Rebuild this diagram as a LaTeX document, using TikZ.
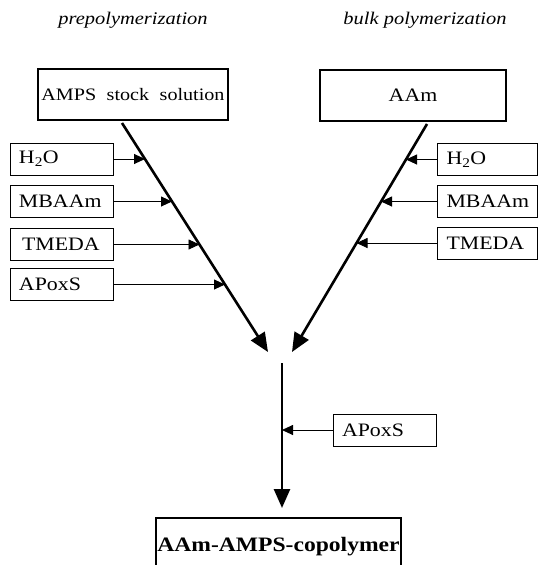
\documentclass[tikz,border=0pt]{standalone}
\usepackage{fontspec}
\setmainfont{Liberation Serif}[FakeStretch=1.15]
\usetikzlibrary{arrows.meta}
\tikzset{
  bigbox/.style={draw, line width=1.5pt, inner sep=0pt, font=\fontsize{17.5}{20}\selectfont},
  smallbox/.style={draw, line width=0.9pt, minimum height=32pt, inner ysep=0pt, inner xsep=9pt, text width=85pt, align=left, font=\fontsize{19}{21}\selectfont},
  title/.style={font=\fontsize{17.8}{20}\selectfont\itshape, inner sep=0pt},
  mainflow/.style={line width=2.6pt, -{Triangle[length=19pt,width=16pt]}},
  feed/.style={line width=0.9pt, -{Triangle[length=11pt,width=10pt]}}
}
\begin{document}
\begin{tikzpicture}[x=1pt,y=-1pt]
\useasboundingbox (0,0) rectangle (538,565);
\clip (0,0) rectangle (538,565);

% titles
\node[title] (t1) at (133,20) {prepolymerization};
\node[title] (t2) at (425,20) {bulk polymerization};

% top boxes
\node[bigbox, minimum width=190pt, minimum height=51pt] (amps) at (133,94.5) {AMPS\hspace{0.6em}stock\hspace{0.6em}solution};
\node[bigbox, minimum width=186pt, minimum height=51pt, font=\fontsize{19}{21}\selectfont] (aam) at (413,95.5) {AAm};

% main lines
\coordinate (ls) at (122,123);
\coordinate (le) at (268,352);
\coordinate (rs) at (427,124);
\coordinate (re) at (292,352);
\draw[mainflow] (ls) -- (le);
\draw[mainflow] (rs) -- (re);

% left feeds
\node[smallbox] (lh) at (61.5,159) {H\textsubscript{2}O};
\node[smallbox] (lm) at (61.5,201.5) {MBAAm};
\node[smallbox] (lt) at (61.5,244.5) {\hspace{3pt}TMEDA};
\node[smallbox] (la) at (61.5,284.5) {APoxS};
\coordinate (lh1) at (145,159);
\coordinate (lm1) at (172,201.5);
\coordinate (lt1) at (199.5,244.5);
\coordinate (la1) at (225,284.5);
\draw[feed] (lh.east) -- (lh1);
\draw[feed] (lm.east) -- (lm1);
\draw[feed] (lt.east) -- (lt1);
\draw[feed] (la.east) -- (la1);

% right feeds
\node[smallbox, text width=82pt] (rh) at (487.5,159.5) {H\textsubscript{2}O};
\node[smallbox, text width=82pt] (rm) at (487.5,201.5) {MBAAm};
\node[smallbox, text width=82pt] (rt) at (487.5,243) {TMEDA};
\coordinate (rh1) at (406,159.5);
\coordinate (rm1) at (381,201.5);
\coordinate (rt1) at (356.5,243);
\draw[feed] (rh.west) -- (rh1);
\draw[feed] (rm.west) -- (rm1);
\draw[feed] (rt.west) -- (rt1);

% lower stem
\coordinate (ms) at (282,363);
\coordinate (me) at (282,508);
\draw[mainflow] (ms) -- (me);
\node[smallbox] (ba) at (384.5,430) {APoxS};
\coordinate (ba1) at (282,430);
\draw[feed] (ba.west) -- (ba1);

% product
\node[bigbox, minimum width=245pt, minimum height=58pt, font=\fontsize{20.5}{22}\selectfont\bfseries] (prod) at (278.5,547) {AAm-AMPS-copolymer};
\end{tikzpicture}
\end{document}
